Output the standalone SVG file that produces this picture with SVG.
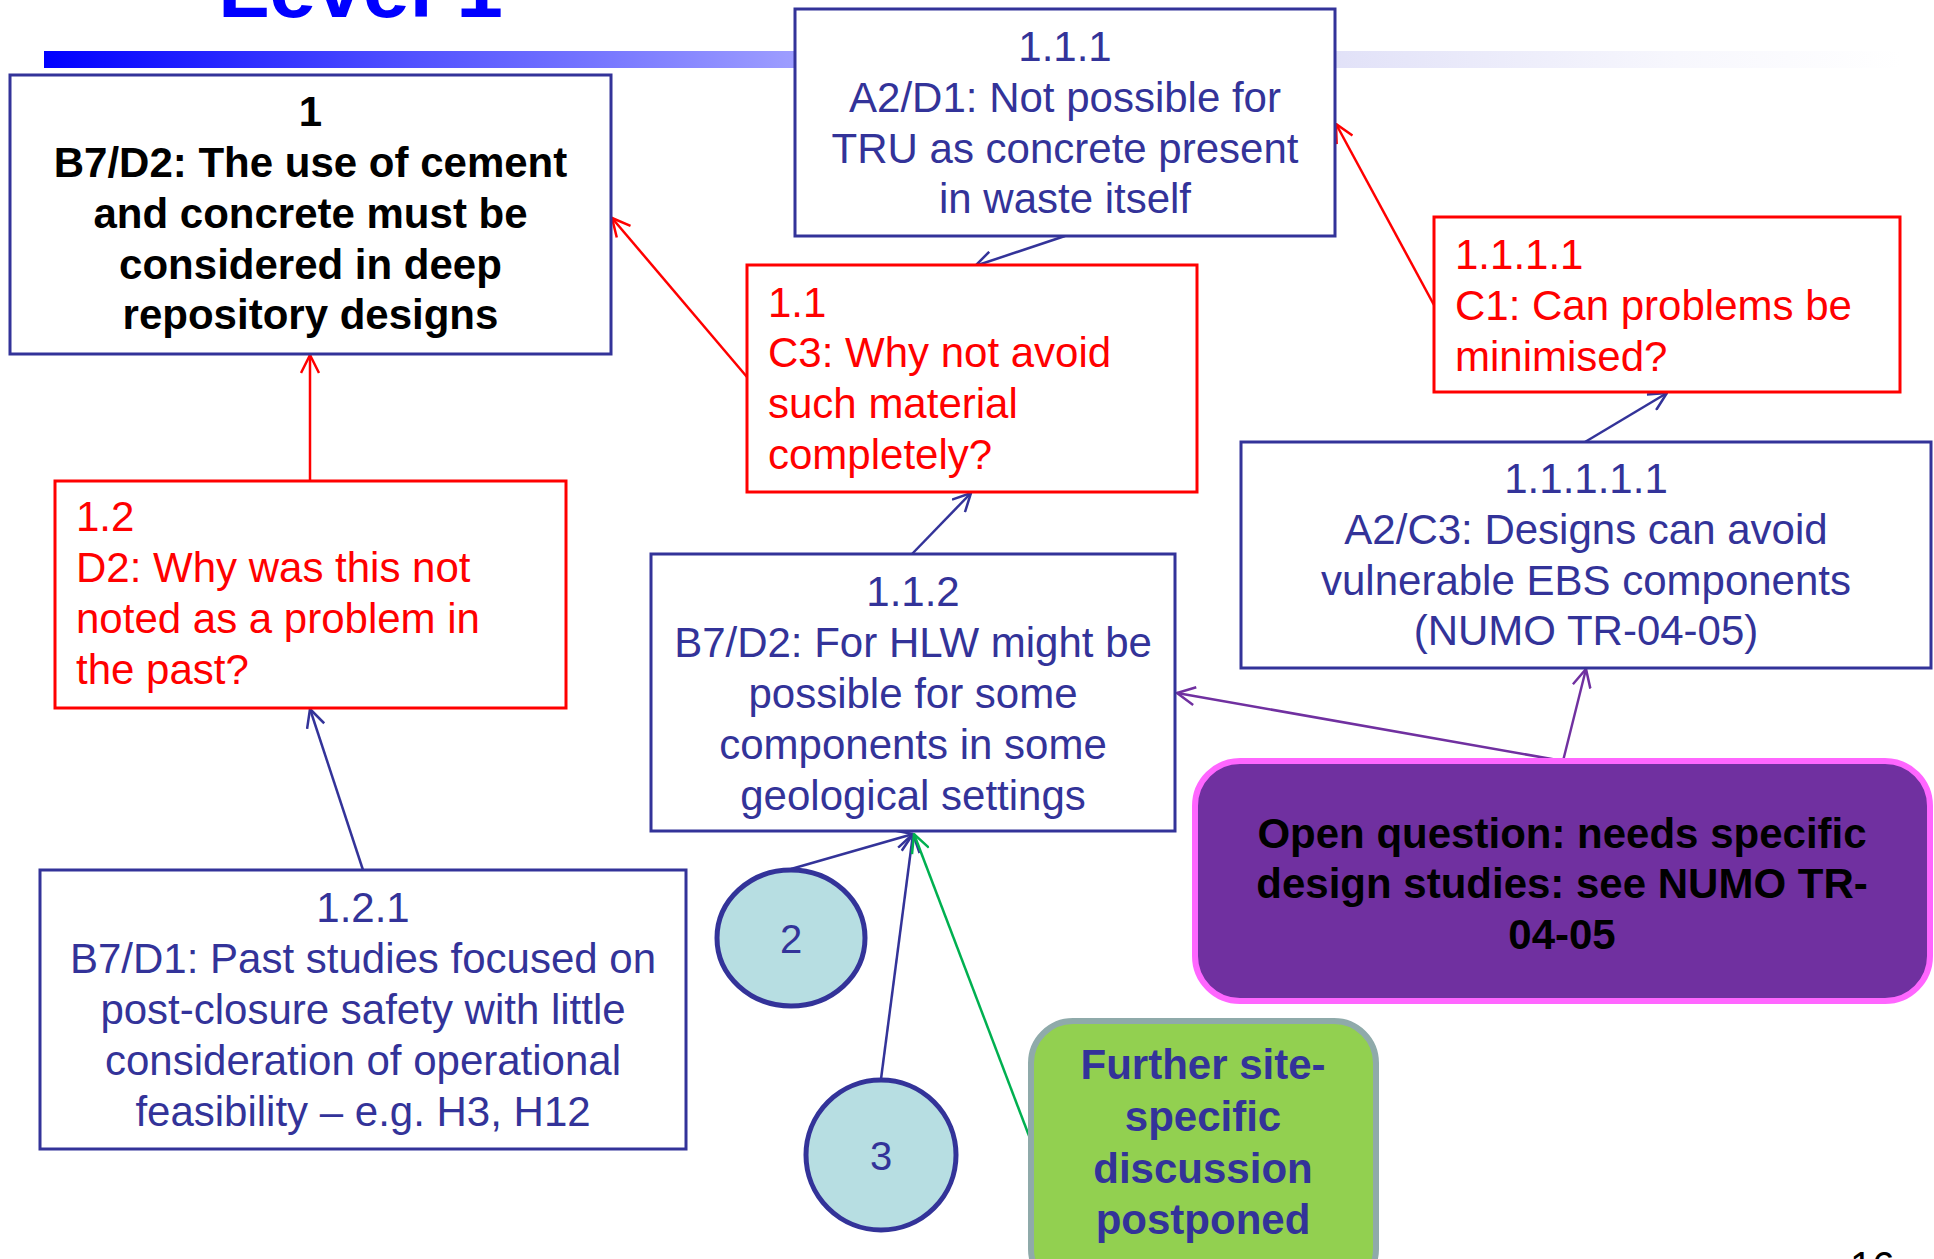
<svg xmlns="http://www.w3.org/2000/svg" width="1934" height="1259" viewBox="0 0 1934 1259">
<defs>
<linearGradient id="bar" x1="0" y1="0" x2="1" y2="0">
<stop offset="0" stop-color="#0000ff"/>
<stop offset="0.2" stop-color="#5252ff"/>
<stop offset="0.4" stop-color="#9c9cff"/>
<stop offset="0.7" stop-color="#e2e2f8"/>
<stop offset="0.88" stop-color="#f7f7fd"/>
<stop offset="1" stop-color="#ffffff"/>
</linearGradient>
<marker id="aRed" viewBox="0 0 20 20" refX="19" refY="10" markerWidth="20" markerHeight="20" markerUnits="userSpaceOnUse" orient="auto"><path d="M1,1 L19,10 L1,19" fill="none" stroke="#ff0000" stroke-width="2.5"/></marker>
<marker id="aNavy" viewBox="0 0 20 20" refX="19" refY="10" markerWidth="20" markerHeight="20" markerUnits="userSpaceOnUse" orient="auto"><path d="M1,1 L19,10 L1,19" fill="none" stroke="#333399" stroke-width="2.5"/></marker>
<marker id="aPurple" viewBox="0 0 20 20" refX="19" refY="10" markerWidth="20" markerHeight="20" markerUnits="userSpaceOnUse" orient="auto"><path d="M1,1 L19,10 L1,19" fill="none" stroke="#7030a0" stroke-width="2.5"/></marker>
<marker id="aGreen" viewBox="0 0 20 20" refX="19" refY="10" markerWidth="20" markerHeight="20" markerUnits="userSpaceOnUse" orient="auto"><path d="M1,1 L19,10 L1,19" fill="none" stroke="#00b050" stroke-width="2.5"/></marker>
</defs>
<style>
text{font-family:"Liberation Sans",Arial,sans-serif;font-size:42px}
.navyBox{fill:#ffffff;stroke:#333399;stroke-width:3}
.redBox{fill:#ffffff;stroke:#ff0000;stroke-width:3}
.navyT{fill:#333399}
.redT{fill:#ff0000}
.bold{font-weight:bold}
.mid{text-anchor:middle}
.cn{fill:none;stroke-width:2.5}
.cRed{stroke:#ff0000;marker-end:url(#aRed)}
.cNavy{stroke:#333399;marker-end:url(#aNavy)}
.cPurple{stroke:#7030a0;marker-end:url(#aPurple)}
.cGreen{stroke:#00b050;marker-end:url(#aGreen)}
</style>
<rect width="1934" height="1259" fill="#ffffff"/>
<g id="title">
<text x="218" y="17" style="font-size:84px;font-weight:bold;fill:#0000ff">Level 1</text>
<rect x="44" y="51" width="1856" height="17" fill="url(#bar)"/>
</g>
<g id="connectors">
<line class="cn cRed" x1="310" y1="481" x2="310" y2="355"/>
<line class="cn cRed" x1="747" y1="377" x2="612" y2="218"/>
<line class="cn cRed" x1="1434" y1="305" x2="1336" y2="124"/>
<line class="cn cNavy" x1="1065" y1="236" x2="975" y2="266"/>
<line class="cn cNavy" x1="912" y1="554" x2="971" y2="493"/>
<line class="cn cNavy" x1="1585" y1="442" x2="1667" y2="393"/>
<line class="cn cNavy" x1="363" y1="870" x2="310" y2="709"/>
<line class="cn cPurple" x1="1563" y1="761" x2="1586" y2="669"/>
<line class="cn cPurple" x1="1563" y1="761" x2="1177" y2="693"/>
<line class="cn cNavy" x1="791" y1="869" x2="913" y2="834"/>
<line class="cn cNavy" x1="881" y1="1079" x2="913" y2="834"/>
<line class="cn cGreen" x1="1031" y1="1141" x2="914" y2="834"/>
</g>
<g id="n1">
<rect class="navyBox" x="10" y="75" width="601" height="279"/>
<text class="bold mid" fill="#000000"><tspan x="310.5" y="126">1</tspan><tspan x="310.5" y="177">B7/D2: The use of cement</tspan><tspan x="310.5" y="228">and concrete must be</tspan><tspan x="310.5" y="279">considered in deep</tspan><tspan x="310.5" y="329">repository designs</tspan></text>
</g>
<g id="n1_1_1">
<rect class="navyBox" x="795" y="9" width="540" height="227"/>
<text class="navyT mid"><tspan x="1065" y="61">1.1.1</tspan><tspan x="1065" y="112">A2/D1: Not possible for</tspan><tspan x="1065" y="163">TRU as concrete present</tspan><tspan x="1065" y="213">in waste itself</tspan></text>
</g>
<g id="n1_1">
<rect class="redBox" x="747" y="265" width="450" height="227"/>
<text class="redT"><tspan x="768" y="317">1.1</tspan><tspan x="768" y="367">C3: Why not avoid</tspan><tspan x="768" y="418">such material</tspan><tspan x="768" y="469">completely?</tspan></text>
</g>
<g id="n1_1_1_1">
<rect class="redBox" x="1434" y="217" width="466" height="175"/>
<text class="redT"><tspan x="1455" y="269">1.1.1.1</tspan><tspan x="1455" y="320">C1: Can problems be</tspan><tspan x="1455" y="371">minimised?</tspan></text>
</g>
<g id="n1_2">
<rect class="redBox" x="55" y="481" width="511" height="227"/>
<text class="redT"><tspan x="76" y="531">1.2</tspan><tspan x="76" y="582">D2: Why was this not</tspan><tspan x="76" y="633">noted as a problem in</tspan><tspan x="76" y="684">the past?</tspan></text>
</g>
<g id="n1_1_2">
<rect class="navyBox" x="651" y="554" width="524" height="277"/>
<text class="navyT mid"><tspan x="913" y="606">1.1.2</tspan><tspan x="913" y="657">B7/D2: For HLW might be</tspan><tspan x="913" y="708">possible for some</tspan><tspan x="913" y="759">components in some</tspan><tspan x="913" y="810">geological settings</tspan></text>
</g>
<g id="n1_1_1_1_1_1">
<rect class="navyBox" x="1241" y="442" width="690" height="226"/>
<text class="navyT mid"><tspan x="1586" y="493">1.1.1.1.1</tspan><tspan x="1586" y="544">A2/C3: Designs can avoid</tspan><tspan x="1586" y="595">vulnerable EBS components</tspan><tspan x="1586" y="645">(NUMO TR-04-05)</tspan></text>
</g>
<g id="n1_2_1">
<rect class="navyBox" x="40" y="870" width="646" height="279"/>
<text class="navyT mid"><tspan x="363" y="922">1.2.1</tspan><tspan x="363" y="973">B7/D1: Past studies focused on</tspan><tspan x="363" y="1024">post-closure safety with little</tspan><tspan x="363" y="1075">consideration of operational</tspan><tspan x="363" y="1126">feasibility – e.g. H3, H12</tspan></text>
</g>
<g id="open_question">
<rect x="1195" y="761" width="735" height="240" rx="45" ry="45" fill="#7030a0" stroke="#ff66ff" stroke-width="6"/>
<text class="bold mid" fill="#000000"><tspan x="1562" y="848">Open question: needs specific</tspan><tspan x="1562" y="898">design studies: see NUMO TR-</tspan><tspan x="1562" y="949">04-05</tspan></text>
</g>
<g id="circle2">
<ellipse cx="791" cy="938" rx="74" ry="68" fill="#b7dee2" stroke="#333399" stroke-width="5"/>
<text class="navyT mid" style="font-size:40px" x="791" y="953">2</text>
</g>
<g id="circle3">
<ellipse cx="881" cy="1155" rx="75" ry="75" fill="#b7dee2" stroke="#333399" stroke-width="5"/>
<text class="navyT mid" style="font-size:40px" x="881" y="1170">3</text>
</g>
<g id="postponed">
<rect x="1031" y="1021" width="345" height="270" rx="42" ry="42" fill="#92d050" stroke="#8faaaa" stroke-width="6"/>
<text class="navyT bold mid"><tspan x="1203" y="1079">Further site-</tspan><tspan x="1203" y="1131">specific</tspan><tspan x="1203" y="1183">discussion</tspan><tspan x="1203" y="1234">postponed</tspan></text>
</g>
<g id="page">
<text x="1850" y="1280" style="font-size:40px" fill="#000000">16</text>
</g>
</svg>
